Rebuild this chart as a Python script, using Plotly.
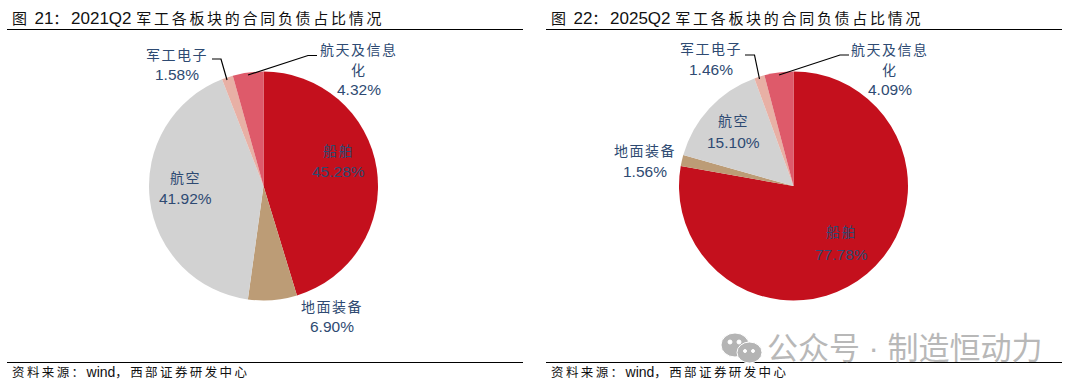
import re
import plotly.graph_objects as go

W, H = 1074, 391
sectors = ["船舶", "地面装备", "航空", "军工电子", "航天及信息化"]
share_2021 = [45.28, 6.90, 41.92, 1.58, 4.32]
share_2025 = [77.78, 1.56, 15.10, 1.46, 4.09]
colors = ["#C4101D", "#BC9C76", "#D2D2D2", "#E8B0A5", "#DE5A6A"]
titles = ["图 21：2021Q2 军工各板块的合同负债占比情况", "图 22：2025Q2 军工各板块的合同负债占比情况"]
source = "资料来源：wind，西部证券研发中心"
watermark = "公众号 · 制造恒动力"

FONT = "Liberation Sans, Noto Sans CJK SC, sans-serif"
LABEL = "#2E4A72"

def px(x): return x / W
def py(y): return 1 - y / H

def spaced(s, size, spacing):
    """Wrap CJK runs so that they take the size and tracking of the reference."""
    return re.sub(r"([^\x00-\x7f]+)",
                  lambda m: f'<span style="font-size:{size}px;letter-spacing:{spacing}px">{m.group(1)}</span>', s)

fig = go.Figure()
for vals, cx in ((share_2021, 263.5), (share_2025, 793.5)):
    fig.add_trace(go.Pie(
        labels=sectors, values=vals, sort=False, direction="clockwise", rotation=0,
        marker=dict(colors=colors, line=dict(width=0)), textinfo="none", showlegend=False,
        hoverinfo="label+percent",
        domain=dict(x=[px(cx - 114.5), px(cx + 114.5)], y=[py(300.5), py(71.5)]),
    ))

def text(x, y, s, size=14.5, color=LABEL, anchor="center"):
    fig.add_annotation(x=px(x), y=py(y), xref="paper", yref="paper", text=s, showarrow=False,
                       xanchor=anchor, yanchor="middle", font=dict(family=FONT, size=size, color=color))

def seg(pts):
    d = "M " + " L ".join(f"{px(a):.5f},{py(b):.5f}" for a, b in pts)
    fig.add_shape(type="path", xref="paper", yref="paper", path=d, line=dict(color="#000", width=1.2))

def label(x, ys, name_lines, val):
    for y, s in zip(ys, name_lines):
        text(x, y, f'<span style="letter-spacing:1.5px">{s}</span>', size=14)
    text(x, ys[-1], f"{val:.2f}%", size=15.5)

# left pie labels
label(339, [151, 171], ["船舶"], share_2021[0])
label(332, [307, 326], ["地面装备"], share_2021[1])
label(185, [178, 198], ["航空"], share_2021[2])
label(177, [55, 74], ["军工电子"], share_2021[3])
label(359, [50, 70, 90], ["航天及信息", "化"], share_2021[4])
# right pie labels
label(841, [232, 254], ["船舶"], share_2025[0])
label(645, [151, 171], ["地面装备"], share_2025[1])
label(733, [121, 142], ["航空"], share_2025[2])
label(711, [49, 69], ["军工电子"], share_2025[3])
label(889.5, [50, 70, 90], ["航天及信息", "化"], share_2025[4])

# leader lines
seg([(212, 59), (221, 59), (227, 80)])
seg([(248, 75), (308, 55.5), (317, 55.5)])
seg([(745, 55), (754.5, 55), (759.5, 79)])
seg([(779, 75), (840, 55), (849, 55)])

# titles, rules, source
for x0, x1, t in ((7, 523, titles[0]), (546, 1062, titles[1])):
    text(x0 + 3, 18.5, spaced(t, 15, 2.7), size=17, color="#111", anchor="left")
    text(x0 + 3, 372, spaced(source, 12.5, 2.4), size=14, color="#111", anchor="left")
    for y in (29.5, 362.5):
        fig.add_shape(type="line", xref="paper", yref="paper", x0=px(x0), x1=px(x1), y0=py(y), y1=py(y),
                      line=dict(color="#000", width=1))

# watermark
def ellipse(cx, cy, rx, ry, fill, line="#FFF"):
    fig.add_shape(type="circle", xref="paper", yref="paper", x0=px(cx - rx), x1=px(cx + rx),
                  y0=py(cy + ry), y1=py(cy - ry), fillcolor=fill, line=dict(color=line, width=1))
ellipse(735, 345, 14, 12, "#B4B4B4")
ellipse(749.5, 352.5, 12.5, 10.5, "#B4B4B4")
for cx, cy, r in ((730, 342, 2), (739, 342, 2), (745, 351, 1.5), (753, 351, 1.5)):
    ellipse(cx, cy, r, r, "#FFF", "#FFF")
text(765, 348, watermark, size=31, color="#B8B8B8", anchor="left")

fig.update_layout(width=W, height=H, margin=dict(l=0, r=0, t=0, b=0), paper_bgcolor="#FFF",
                  font=dict(family=FONT))
fig.write_html("out.html", config=dict(displayModeBar=False), post_script="document.body.style.margin='0';")
